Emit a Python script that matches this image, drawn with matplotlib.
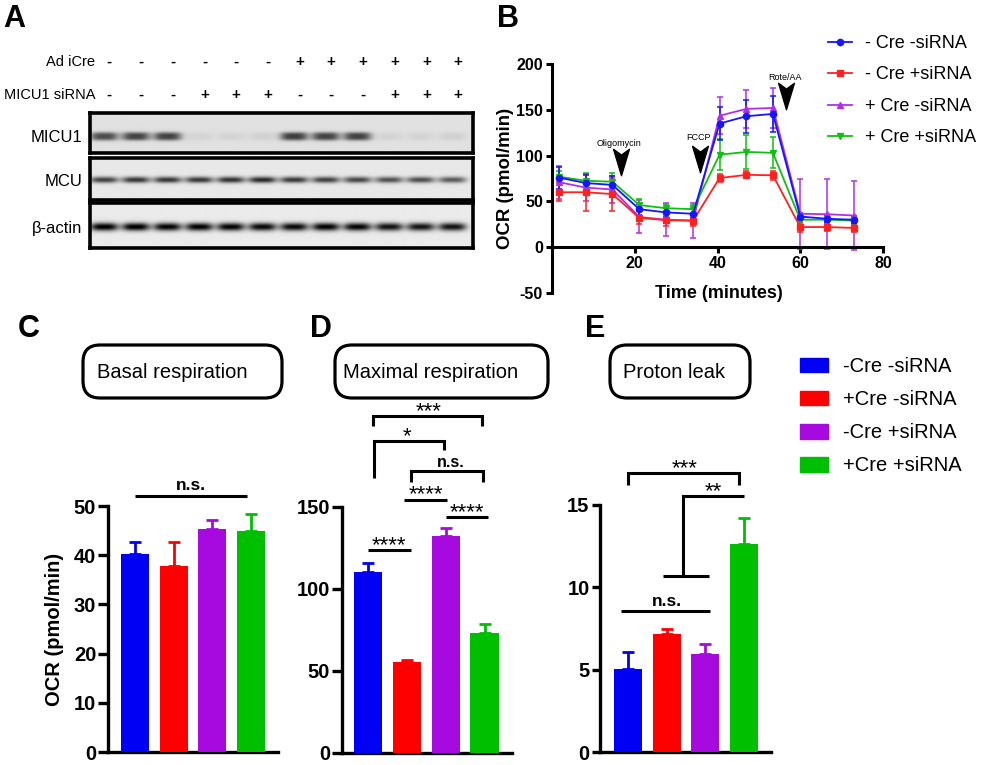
import numpy as np
import matplotlib
matplotlib.use('Agg')
import matplotlib.pyplot as plt
from matplotlib.patches import FancyBboxPatch, Patch
from matplotlib.lines import Line2D
from matplotlib.path import Path
import matplotlib.transforms as mtransforms

plt.rcParams['font.family'] = ['Liberation Sans', 'DejaVu Sans']
plt.rcParams['axes.unicode_minus'] = False

W, H = 982, 765

# ---------------- data ----------------
# Panel A (western blot)
ad_icre = ['-', '-', '-', '-', '-', '-', '+', '+', '+', '+', '+', '+']
micu1_sirna = ['-', '-', '-', '+', '+', '+', '-', '-', '-', '+', '+', '+']
blot_rows = ['MICU1', 'MCU', 'β-actin']
micu1_band = [0.58, 0.62, 0.62, 0.05, 0.05, 0.06, 0.64, 0.62, 0.62, 0.05, 0.05, 0.06]
mcu_band = [0.66, 0.70, 0.70, 0.70, 0.72, 0.76, 0.70, 0.66, 0.64, 0.60, 0.61, 0.56]
actin_band = [0.95, 0.95, 0.92, 0.93, 0.92, 0.90, 0.90, 0.93, 0.92, 0.86, 0.85, 0.86]

# Panel B (OCR time course)
time_min = [1.7, 8.2, 14.6, 21.1, 27.5, 34.1, 40.5, 47.0, 53.4, 60.0, 66.5, 73.0]
b_labels = ['- Cre -siRNA', '- Cre +siRNA', '+ Cre -siRNA', '+ Cre +siRNA']
ocr_blue = [76, 70, 68, 41.5, 38, 36.5, 135, 143, 145.5, 33.5, 31, 30]
err_blue = [12, 9, 10, 6, 5, 5, 18, 18, 20, 4, 4, 4]
ocr_red = [60, 60, 58, 32, 29.5, 29, 75.5, 79, 78.5, 22, 22, 21]
err_red = [10, 20, 18, 7, 6, 6, 4, 4, 5, 5, 4, 4]
ocr_purple = [71, 65, 63, 33, 30, 29, 143.5, 151, 152, 36.5, 36, 34.6]
err_purple = [18, 15, 15, 18, 18, 19, 20, 21, 22, 38, 38, 38]
ocr_green = [77, 72.5, 71.5, 46, 42.6, 41.5, 101, 104, 103, 30, 30, 29]
err_green = [6, 9, 9, 7, 5, 5, 17, 19, 17, 4, 4, 4]
injections = ['Oligomycin', 'FCCP', 'Rote/AA']
inj_time = [16.6, 35.8, 56.6]
inj_arrow_y = [93, 96, 165]
inj_label_y = [113, 120, 185.5]

# Panels C-E (bar charts)
bar_labels = ['-Cre -siRNA', '+Cre -siRNA', '-Cre +siRNA', '+Cre +siRNA']
bar_colors = ['#0000F5', '#FF0000', '#A60ADF', '#00BE00']
basal = [40.2, 37.8, 45.3, 45.0]
basal_err = [2.5, 4.9, 1.9, 3.3]
maximal = [110, 55.7, 132.3, 73.0]
maximal_err = [6.0, 0.8, 4.7, 5.5]
leak = [5.04, 7.16, 5.95, 12.63]
leak_err = [1.03, 0.31, 0.63, 1.57]

# ---------------- figure ----------------
fig = plt.figure(figsize=(W / 100, H / 100), dpi=100)


def px_axes(l, t, r, b, **kw):
    return fig.add_axes([l / W, 1 - b / H, (r - l) / W, (b - t) / H], **kw)


# ---- Panel A: blot strips ----
strips = [
    (micu1_band, 113, 153, 0.88, [0.55, 0.64], 0.065),
    (mcu_band, 158, 200, 0.91, [0.52], 0.075),
    (actin_band, 203, 248, 0.92, [0.53], 0.09),
]
label_y = [138, 181, 228]
x0, x1 = -0.44, 11.64
strip_axes = []
for (inten, t, b, bg, ycs, sig), name, ly in zip(strips, blot_rows, label_y):
    ax = px_axes(90, t, 473, b)
    xs = np.linspace(x0, x1, 500)
    ys = np.linspace(0, 1, 90)
    X, Y = np.meshgrid(xs, ys)
    vprof = sum(np.exp(-((Y - yc) / sig) ** 2) for yc in ycs)
    vprof = vprof / vprof.max()
    dark = np.zeros_like(X)
    for i, v in enumerate(inten):
        dark += v * np.exp(-np.abs((X - i) / 0.44) ** 3.5)
    img = np.clip(bg - dark * vprof, 0, 1)
    ax.imshow(img, cmap='gray', vmin=0, vmax=1, extent=(x0, x1, 1, 0),
              aspect='auto', interpolation='bilinear')
    ax.set_xlim(x0, x1)
    ax.set_ylim(1, 0)
    ax.set_xticks([])
    ax.set_yticks([])
    for sp in ax.spines.values():
        sp.set_linewidth(2.6)
        sp.set_color('black')
    fig.text(82 / W, 1 - ly / H, name, ha='right', va='center', fontsize=12)
    strip_axes.append(ax)

tr = mtransforms.blended_transform_factory(strip_axes[0].transData, fig.transFigure)
for i, (s1, s2) in enumerate(zip(ad_icre, micu1_sirna)):
    strip_axes[0].text(i + 0.17, 1 - 62 / H, s1, transform=tr, ha='center', va='center',
                       fontsize=11, fontweight='bold', clip_on=False)
    strip_axes[0].text(i + 0.17, 1 - 95 / H, s2, transform=tr, ha='center', va='center',
                       fontsize=11, fontweight='bold', clip_on=False)
fig.text(95 / W, 1 - 62 / H, 'Ad iCre', ha='right', va='center', fontsize=10.5)
fig.text(95 / W, 1 - 95 / H, 'MICU1 siRNA', ha='right', va='center', fontsize=10.5)

# ---- Panel B: OCR time course ----
axb = px_axes(552, 64, 883, 293)
series = [
    (ocr_purple, err_purple, '#B030E8', '^', b_labels[2]),
    (ocr_green, err_green, '#10C010', 'v', b_labels[3]),
    (ocr_red, err_red, '#FF2020', 's', b_labels[1]),
    (ocr_blue, err_blue, '#1515FF', 'o', b_labels[0]),
]
handles = {}
for vals, errs, c, m, lab in series:
    axb.errorbar(time_min, vals, yerr=errs, color=c, marker=m, ms=4.5, lw=1.3,
                 capsize=2.5, elinewidth=1.1, capthick=1.1)
    handles[lab] = Line2D([], [], color=c, marker=m, ms=4.5, lw=1.3)
axb.set_xlim(0, 80)
axb.set_ylim(-50, 200)
axb.spines['top'].set_visible(False)
axb.spines['right'].set_visible(False)
axb.spines['bottom'].set_position(('data', 0))
for sp in ('left', 'bottom'):
    axb.spines[sp].set_linewidth(2.2)
axb.set_xticks([20, 40, 60, 80])
axb.set_yticks(range(-50, 201, 50))
axb.tick_params(axis='both', width=2.2, length=4.5, labelsize=11.5, pad=2)
for lab in axb.get_xticklabels() + axb.get_yticklabels():
    lab.set_fontweight('bold')
fig.text(505 / W, 1 - 178 / H, 'OCR (pmol/min)', rotation=90, ha='center', va='center',
         fontsize=13.4, fontweight='bold')
fig.text(719 / W, 1 - 293 / H, 'Time (minutes)', ha='center', va='center',
         fontsize=13, fontweight='bold')

arrow_marker = Path([(0, -0.5), (-0.3, 0.5), (0, 0.28), (0.3, 0.5), (0, -0.5)],
                    [Path.MOVETO, Path.LINETO, Path.LINETO, Path.LINETO, Path.CLOSEPOLY])
axb.plot(inj_time, inj_arrow_y, ls='none', marker=arrow_marker, ms=19, color='black',
         clip_on=False)
for name, tx, ty in zip(injections, inj_time, inj_label_y):
    axb.text(tx - 0.4, ty, name, ha='center', va='center', fontsize=6.5, clip_on=False)

axb.legend([handles[l] for l in b_labels], b_labels, loc='upper left',
           bbox_to_anchor=(828 / W, 1 - 35 / H), bbox_transform=fig.transFigure,
           frameon=False, fontsize=13, handlelength=1.33, handletextpad=0.72,
           labelspacing=0.8, borderpad=0, borderaxespad=0)


# ---- Panels C-E: bar charts ----
def bar_panel(l, t, r, b, vals, errs, ylim, yticks, xlim, ticklen):
    ax = px_axes(l, t, r, b)
    xs = np.arange(len(vals))
    ax.bar(xs, vals, width=0.725, color=bar_colors, zorder=3)
    for x, v, e, c in zip(xs, vals, errs, bar_colors):
        ax.errorbar([x], [v], yerr=[[0], [e]], fmt='none', ecolor=c, elinewidth=2,
                    capsize=4.5, capthick=2, zorder=2)
    ax.set_xlim(*xlim)
    ax.set_ylim(*ylim)
    ax.set_yticks(yticks)
    ax.set_xticks([])
    ax.spines['top'].set_visible(False)
    ax.spines['right'].set_visible(False)
    for sp in ('left', 'bottom'):
        ax.spines[sp].set_linewidth(2.4)
    ax.tick_params(axis='y', width=2.4, length=ticklen, labelsize=14.5, pad=1.5)
    for lab in ax.get_yticklabels():
        lab.set_fontweight('bold')
    return ax


def bracket(ax, xa, xb, y, ya, yb):
    ax.plot([xa, xa, xb, xb], [ya, y, y, yb], color='black', lw=2.2, clip_on=False,
            solid_capstyle='butt', solid_joinstyle='miter')


def stars(ax, x, y, s):
    ax.annotate(s, (x, y), xytext=(0, -0.5), textcoords='offset points', ha='center',
                va='baseline', fontsize=16, annotation_clip=False)


axc = bar_panel(108, 506, 278, 752, basal, basal_err, (0, 50), range(0, 51, 10),
                (-0.71, 3.70), 7)
fig.text(55 / W, 1 - 629 / H, 'OCR (pmol/min)', rotation=90, ha='center', va='center',
         fontsize=14.5, fontweight='bold')
bracket(axc, -0.01, 2.9, 52, 52, 52)
axc.text(1.45, 52.6, 'n.s.', ha='center', va='bottom', fontsize=12.5, fontweight='bold')

axd = bar_panel(341.7, 506.7, 511.7, 753, maximal, maximal_err, (0, 150), [0, 50, 100, 150],
                (-0.68, 3.70), 7)
bracket(axd, 0.0, 1.10, 123.4, 123.4, 123.4)
stars(axd, 0.55, 123.4, '****')
bracket(axd, 0.93, 2.03, 154.3, 154.3, 154.3)
stars(axd, 1.48, 154.3, '****')
bracket(axd, 2.0, 3.09, 143.7, 143.7, 143.7)
stars(axd, 2.55, 143.7, '****')
bracket(axd, 1.10, 2.95, 172, 165, 165)
axd.text(2.14, 172.5, 'n.s.', ha='center', va='bottom', fontsize=11.5, fontweight='bold')
bracket(axd, 0.14, 1.96, 190, 167.6, 184.7)
stars(axd, 0.99, 190, '*')
bracket(axd, 0.13, 2.94, 205, 199, 199)
stars(axd, 1.55, 205, '***')

axe = bar_panel(600, 505, 770.7, 752.3, leak, leak_err, (0, 15), [0, 5, 10, 15],
                (-0.72, 3.69), 6)
bracket(axe, 0.0, 2.87, 16.94, 16.2, 16.2)
stars(axe, 1.47, 16.94, '***')
axe.plot([1.43, 1.43, 3.0], [10.7, 15.52, 15.52], color='black', lw=2.2, clip_on=False,
         solid_capstyle='butt', solid_joinstyle='miter')
axe.plot([0.9, 2.09], [10.7, 10.7], color='black', lw=2.2, clip_on=False,
         solid_capstyle='butt')
stars(axe, 2.2, 15.52, '**')
axe.plot([-0.19, 2.12], [8.58, 8.58], color='black', lw=2.2, clip_on=False,
         solid_capstyle='butt')
axe.text(1.0, 8.7, 'n.s.', ha='center', va='bottom', fontsize=12.5, fontweight='bold')

fig.legend([Patch(facecolor=c, edgecolor=c) for c in bar_colors], bar_labels,
           loc='upper left', bbox_to_anchor=(800 / W, 1 - 357 / H), frameon=False,
           fontsize=14.5, handlelength=1.4, handleheight=0.75, handletextpad=0.75,
           labelspacing=0.7, borderpad=0, borderaxespad=0)

# ---- overlay: panel letters and title boxes ----
ov = fig.add_axes([0, 0, 1, 1])
ov.set_xlim(0, W)
ov.set_ylim(H, 0)
ov.axis('off')
for letter, lx, ly in [('A', 3, 27), ('B', 497, 27), ('C', 18, 337), ('D', 310, 337),
                       ('E', 585, 337)]:
    ov.text(lx, ly, letter, fontsize=22, fontweight='bold', va='baseline', ha='left')
for title, bx0, bx1, tx in [('Basal respiration', 83, 282, 97),
                            ('Maximal respiration', 335, 548, 343),
                            ('Proton leak', 610, 750, 623)]:
    ov.add_patch(FancyBboxPatch((bx0, 345), bx1 - bx0, 53,
                                boxstyle='round,pad=0,rounding_size=17',
                                fc='white', ec='black', lw=2.3))
    ov.text(tx, 372, title, fontsize=14.5, va='center', ha='left')

fig.savefig('out.png', dpi=100)
